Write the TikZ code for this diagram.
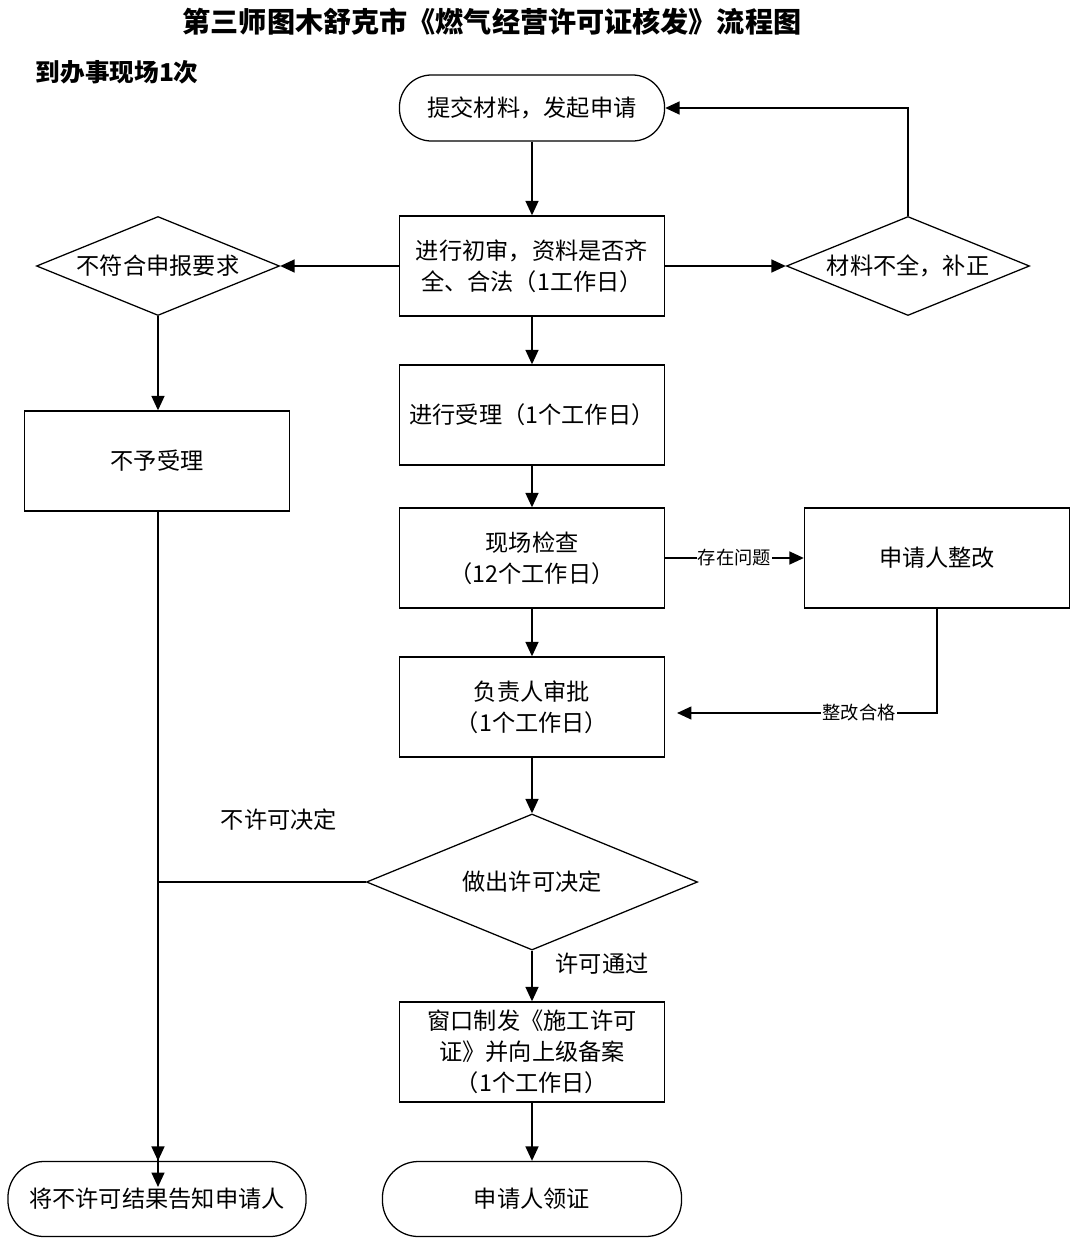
\documentclass[tikz,border=0pt]{standalone}
\usepackage{fontspec}
\newfontfamily\cjk{Noto Sans CJK SC}
\usetikzlibrary{arrows.meta}
\usetikzlibrary{shapes.geometric}
\tikzset{
  box/.style={draw,line width=0.9pt,minimum width=6.625cm,minimum height=2.5cm,align=center,inner sep=2pt},
  roundbox/.style={box,rounded corners=0.8cm,minimum height=1.65cm},
  decision/.style={draw,line width=0.9pt,diamond,aspect=2.4,inner sep=0pt,minimum width=6.075cm,minimum height=2.475cm},
  flow/.style={line width=1.4pt,-{Triangle[length=3.6mm,width=3.2mm]}},
  note/.style={fill=white,inner sep=1pt,font=\cjk\fontsize{13}{15}\selectfont},
}

\begin{document}
\begin{tikzpicture}[x=0.025cm,y=-0.025cm,font=\cjk\fontsize{16.5}{22}\selectfont]
	\useasboundingbox (0,0) rectangle (1080,1250);

	\node (title) at (492,22) {\bfseries\fontsize{20}{24}\selectfont 第三师图木舒克市《燃气经营许可证核发》流程图};
	\node[anchor=west] (visits) at (31,72) {\bfseries\fontsize{17.5}{21}\selectfont 到办事现场1次};

	\node[roundbox] (apply) at (532,108) {提交材料，发起申请};
	\node[box] (check1) at (532,266) {进行初审，资料是否齐\\全、合法（1工作日）};
	\node[decision] (unfit) at (158,266) {不符合申报要求};
	\node[decision] (supply) at (908,266) {材料不全，补正};
	\node[box] (accept) at (532,415) {进行受理（1个工作日）};
	\node[box] (reject) at (157,461) {不予受理};
	\node[box] (site) at (532,558) {现场检查\\（12个工作日）};
	\node[box] (fix) at (937,558) {申请人整改};
	\node[box] (approve) at (532,707) {负责人审批\\（1个工作日）};
	\node[decision,minimum width=8.275cm,minimum height=3.4cm] (decide) at (532,882) {做出许可决定};
	\node[box] (issue) at (532,1052) {窗口制发《施工许可\\证》并向上级备案\\（1个工作日）};
	\node[roundbox,minimum width=7.45cm,minimum height=1.875cm,rounded corners=0.9cm] (notify) at (157,1199) {将不许可结果告知申请人};
	\node[roundbox,minimum width=7.475cm,minimum height=1.875cm,rounded corners=0.9cm] (collect) at (532,1199) {申请人领证};

	\node (nolabel) at (279,820) {不许可决定};
	\coordinate (fixend) at (677,713);
	\coordinate (denyend) at (158,1187);

	\draw[flow] (apply) -- (check1);
	\draw[flow] (check1) -- (unfit);
	\draw[flow] (check1) -- (supply);
	\draw[flow] (supply.north) |- (apply.east);
	\draw[flow] (unfit.south) -- (reject.north -| unfit.south);
	\draw[flow] (check1) -- (accept);
	\draw[flow] (accept) -- (site);
	\draw[flow] (site) -- (approve);
	\draw[flow] (site) -- node[note] {存在问题} (fix);
	\draw[flow] (fix.south) |- node[note,pos=0.65] {整改合格} (fixend);
	\draw[flow] (approve) -- (decide);
	\draw[flow] (decide.south) -- node[pos=0.25,anchor=west,xshift=0.45cm] {许可通过} (issue.north);
	\draw[flow] (issue) -- (collect);
	\draw[flow] (reject.south -| unfit.south) -- (notify.north -| unfit.south);
	\draw[flow] (decide.west) -| (denyend);
\end{tikzpicture}
\end{document}
